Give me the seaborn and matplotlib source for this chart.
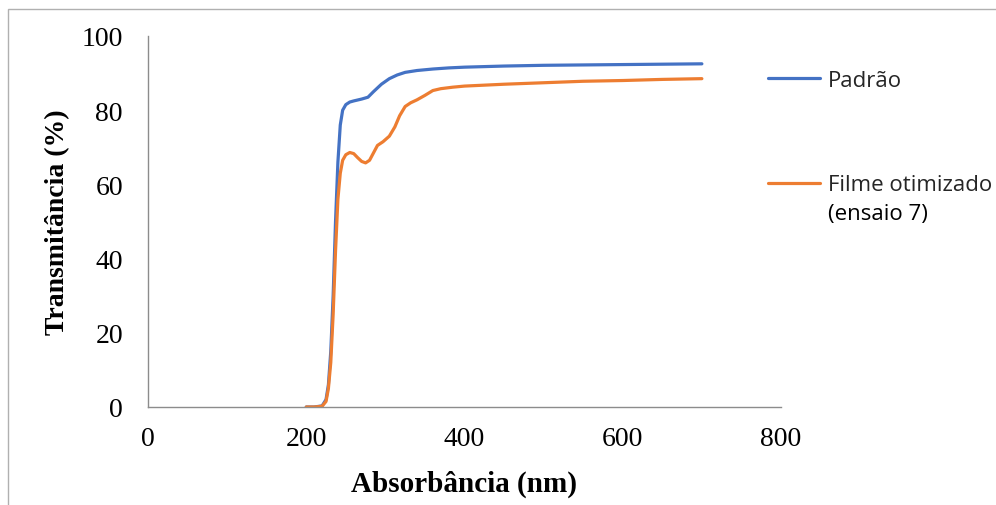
import matplotlib
matplotlib.use("Agg")
import matplotlib.pyplot as plt
import seaborn as sns
import pandas as pd
from matplotlib.patches import Rectangle

# ---- data ----
wl_padrao = [200, 210, 220, 225, 228, 231, 234, 237, 240, 243, 246, 250, 255, 260,
             270, 278, 285, 295, 305, 315, 325, 340, 360, 380, 400, 450, 500, 550,
             600, 650, 700]
t_padrao = [0, 0, 0.3, 2, 6, 15, 30, 50, 66, 76, 80, 81.5, 82.2, 82.5,
            83, 83.5, 85, 87, 88.5, 89.5, 90.2, 90.7, 91.1, 91.4, 91.6, 91.9, 92.1, 92.2,
            92.3, 92.4, 92.5]

wl_filme = [200, 210, 220, 225, 228, 231, 234, 237, 240, 243, 246, 250, 255, 260,
            265, 270, 275, 280, 285, 290, 297, 305, 312, 318, 325, 332, 340, 350,
            360, 370, 385, 400, 450, 500, 550, 600, 650, 700]
t_filme = [0, 0, 0.2, 1.5, 5, 12, 25, 42, 56, 63, 66.5, 68, 68.6, 68.3,
           67.2, 66.2, 65.8, 66.5, 68.5, 70.5, 71.5, 73, 75.5, 78.5, 81, 82, 82.8, 84,
           85.3, 85.8, 86.2, 86.5, 87, 87.4, 87.8, 88, 88.3, 88.5]

series_labels = ["Padrão", "Filme otimizado"]
series_label_extra = "(ensaio 7)"
x_ticks = [0, 200, 400, 600, 800]
y_ticks = [0, 20, 40, 60, 80, 100]
x_label = "Absorbância (nm)"
y_label = "Transmitância (%)"

df = pd.concat([
    pd.DataFrame({"wl": wl_padrao, "T": t_padrao, "serie": series_labels[0]}),
    pd.DataFrame({"wl": wl_filme, "T": t_filme, "serie": series_labels[1]}),
])

sns.set_theme(style="white")
plt.rcParams["font.family"] = ["Liberation Serif", "DejaVu Serif"]

W, H = 996, 506
fig = plt.figure(figsize=(W / 100, H / 100), dpi=100)
ax = fig.add_axes([148 / W, 1 - 408 / H, (781 - 148) / W, (408 - 37) / H])

palette = {series_labels[0]: "#4472C4", series_labels[1]: "#ED7D31"}
sns.lineplot(data=df, x="wl", y="T", hue="serie", palette=palette, ax=ax,
             linewidth=2.3, sort=False, estimator=None, legend=True)

ax.set_xlim(0, 800)
ax.set_ylim(0, 100)
ax.set_xticks(x_ticks)
ax.set_yticks(y_ticks)
ax.set_xticklabels([str(v) for v in x_ticks])
ax.set_yticklabels([str(v) for v in y_ticks])

axis_col = "#8c8c8c"
for s in ["top", "right"]:
    ax.spines[s].set_visible(False)
for s in ["left", "bottom"]:
    ax.spines[s].set_color(axis_col)
    ax.spines[s].set_linewidth(1.0)
ax.tick_params(axis="both", which="major", direction="out", length=5.5, width=1.0,
               color=axis_col, labelsize=20, labelcolor="black")
ax.tick_params(axis="x", pad=8)
ax.tick_params(axis="y", pad=12.5)
ax.grid(False)

ax.set_xlabel(x_label, fontsize=21, fontweight="bold", color="black")
ax.set_ylabel(y_label, fontsize=20, fontweight="bold", color="black")
ax.xaxis.label.set_va("center")
ax.yaxis.label.set_va("center")
ax.xaxis.set_label_coords((464 - 148) / 633, (408 - 484) / 371)
ax.yaxis.set_label_coords((58 - 148) / 633, 0.5)

handles, labels = ax.get_legend_handles_labels()
leg = ax.legend(handles, labels, loc="upper left", bbox_to_anchor=(768 / W, 1 - 71 / H),
                bbox_transform=fig.transFigure, frameon=False, borderpad=0,
                borderaxespad=0, handlelength=2.35, handletextpad=0.36, labelspacing=3.75,
                prop={"family": "Open Sans", "size": 16})
for line in leg.get_lines():
    line.set_linewidth(2.3)
fig.text(828 / W, 1 - 215 / H, series_label_extra, family="Open Sans", fontsize=16,
         ha="left", va="center", color="black")

# outer chart border
fig.add_artist(Rectangle((8 / W, -0.1), 1.2, 1 - 10 / H + 0.1, transform=fig.transFigure,
                         fill=False, edgecolor="#b0b0b0", linewidth=1.0))

fig.savefig("out.png", dpi=100)
